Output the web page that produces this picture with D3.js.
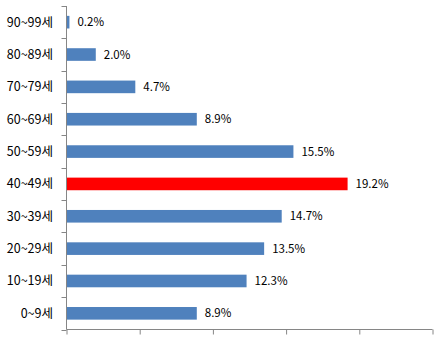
<!DOCTYPE html>
<html><head><meta charset="utf-8">
<script src="https://cdn.jsdelivr.net/npm/d3@7"></script>
<style>body{margin:0;background:#fff}svg{display:block}</style>
</head><body>
<script>
const categories = ["90~99세","80~89세","70~79세","60~69세","50~59세","40~49세","30~39세","20~29세","10~19세","0~9세"];
const values = [0.2, 2.0, 4.7, 8.9, 15.5, 19.2, 14.7, 13.5, 12.3, 8.9];
const highlight = "40~49세";
const xTicks = [0, 5, 10, 15, 20, 25];

const W = 444, H = 342;
const svg = d3.select("body").append("svg").attr("width", W).attr("height", H);
const x = d3.scaleLinear().domain([0, 25]).range([66.5, 432.5]);
const y = d3.scaleBand().domain(categories).range([6, 329.5]).paddingInner(0.61).paddingOuter(0.305);
const yEdges = d3.scaleBand().domain(categories).range([6, 329.5]);
const axisColor = "#868686";
const font = "'Noto Sans CJK KR', 'Noto Sans', sans-serif";

// bars
svg.append("g").selectAll("rect").data(categories).join("rect")
  .attr("x", x(0))
  .attr("y", d => y(d))
  .attr("width", (d, i) => x(values[i]) - x(0))
  .attr("height", y.bandwidth())
  .attr("fill", d => d === highlight ? "#FF0000" : "#4F81BD");

// value labels
svg.append("g").selectAll("text").data(categories).join("text")
  .attr("x", (d, i) => x(values[i]) + 8)
  .attr("y", d => y(d) + y.bandwidth() / 2)
  .attr("dy", "0.35em")
  .attr("font-family", font).attr("font-size", 11.5).attr("fill", "#000")
  .text((d, i) => values[i].toFixed(1) + "%");

// y axis
const yAxisG = svg.append("g");
yAxisG.append("line").attr("x1", x(0)).attr("x2", x(0)).attr("y1", 6).attr("y2", 329.5)
  .attr("stroke", axisColor);
const edges = categories.map(d => yEdges(d)).concat([329.5]);
yAxisG.selectAll("line.tk").data(edges).join("line").attr("class", "tk")
  .attr("x1", x(0) - 5).attr("x2", x(0)).attr("y1", d => Math.round(d) + 0.5).attr("y2", d => Math.round(d) + 0.5)
  .attr("stroke", axisColor);
yAxisG.selectAll("text").data(categories).join("text")
  .attr("x", 53).attr("y", d => yEdges(d) + yEdges.bandwidth() / 2)
  .attr("dy", "0.35em").attr("text-anchor", "end")
  .attr("font-family", font).attr("font-size", 12.5).attr("fill", "#000")
  .text(d => d);

// x axis
const xAxis = d3.axisBottom(x).tickValues(xTicks).tickSize(5).tickFormat("");
const xg = svg.append("g").attr("transform", "translate(0,329.5)").call(xAxis);
xg.select(".domain").attr("stroke", axisColor).attr("d", `M${x(0)},0H${x(25)}`);
xg.selectAll(".tick line").attr("stroke", axisColor);
</script>
</body></html>
